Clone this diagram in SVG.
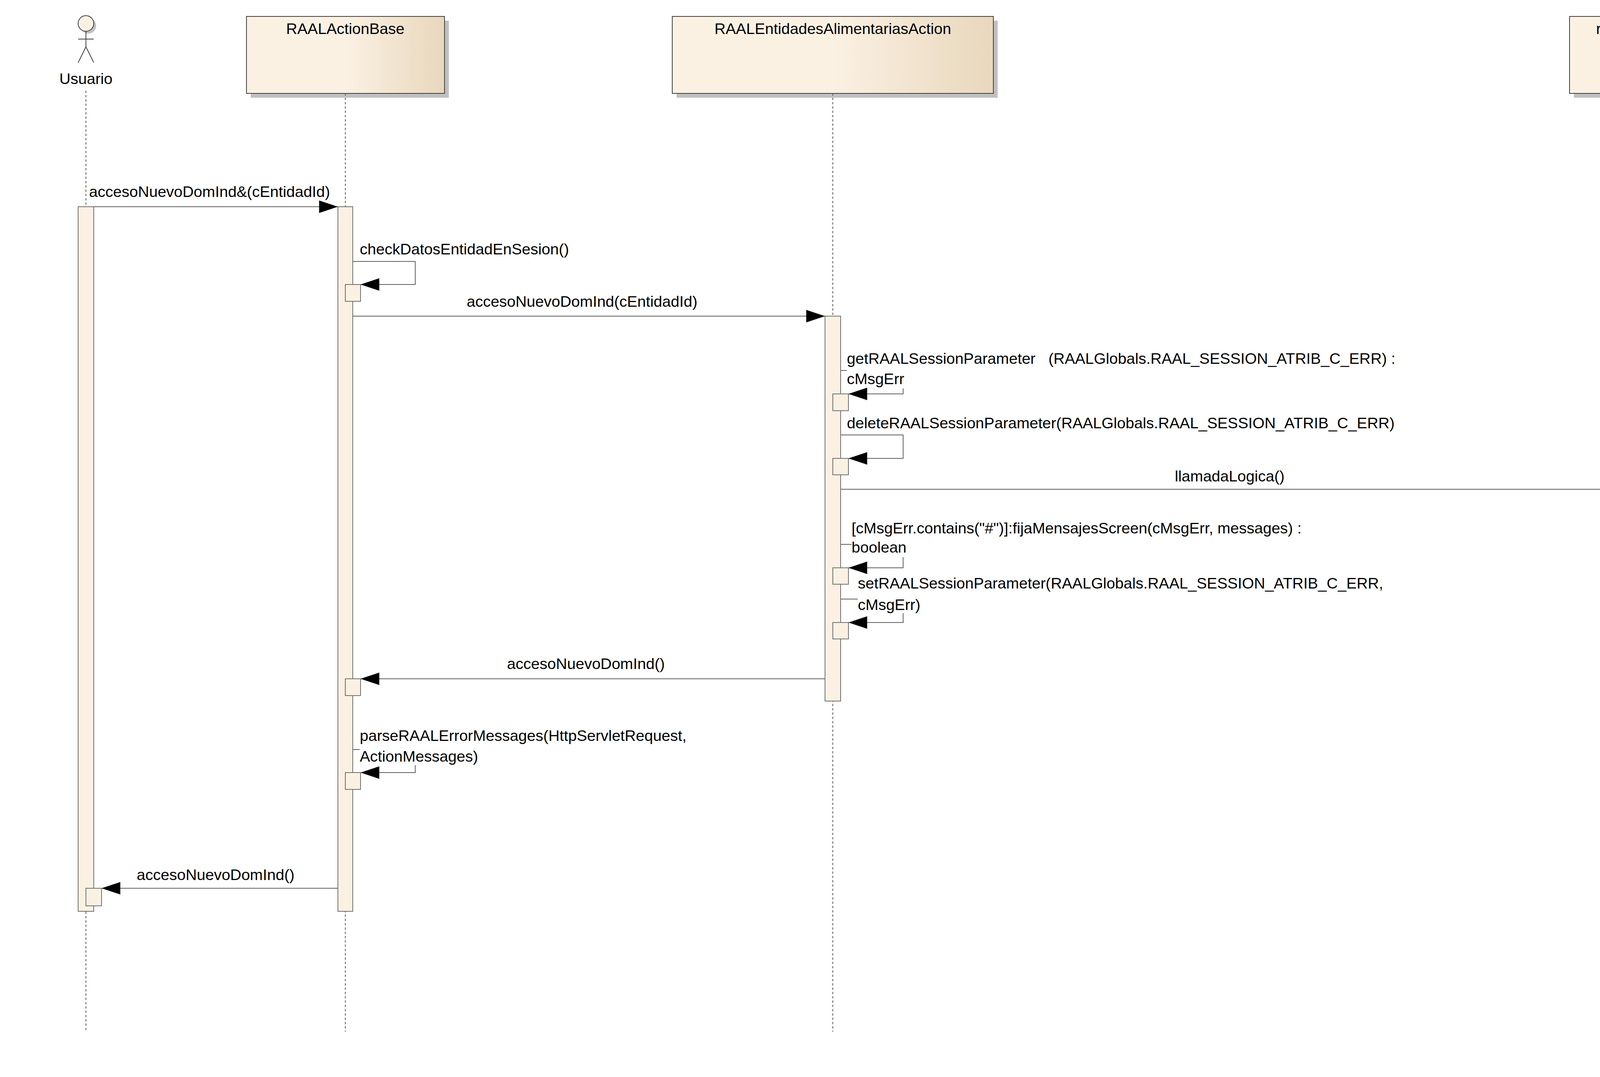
<svg xmlns="http://www.w3.org/2000/svg" width="4416" height="2756" viewBox="0 0 4416 2756">
<defs>
<linearGradient id="g" x1="0" x2="1" y1="0" y2="0"><stop offset="0.5" stop-color="#FBF1E3"/><stop offset="1" stop-color="#E8D7BC"/></linearGradient>
<marker id="ah" markerWidth="48" markerHeight="32" refX="48" refY="16" orient="auto" markerUnits="userSpaceOnUse"><path d="M0,0 L48,16 L0,32 Z" fill="#000"/></marker>
<style>
text{font-family:"Liberation Sans",Arial,sans-serif;font-size:39.5px;fill:#000}
.hd{fill:url(#g);stroke:#404040;stroke-width:2}
.sh{fill:#c0c0c0}
.ll{stroke:#606060;stroke-width:2;stroke-dasharray:6,5;fill:none}
.act{fill:#FBF1E3;stroke:#707070;stroke-width:2}
.m{stroke:#606060;stroke-width:2;fill:none}
.c{text-anchor:middle}
</style>
</defs>
<rect width="4416" height="2756" fill="#fff"/>
<g id="Usuario">
<circle cx="226" cy="66" r="20" class="sh"/>
<circle cx="220" cy="60" r="20" fill="#FBF1E3" stroke="#404040" stroke-width="2"/>
<path d="M220,80 V120 M200,100 H240 M220,120 L200,160 M220,120 L240,160" stroke="#404040" stroke-width="2" fill="none"/>
<text x="220" y="215" class="c">Usuario</text>
<line x1="220" y1="232" x2="220" y2="2640" class="ll"/>
<rect x="200" y="529" width="40" height="1803" class="act"/>
<rect x="220" y="2273" width="40" height="45" class="act"/>
</g>
<g id="RAALActionBase">
<rect x="642" y="53" width="507" height="197" class="sh"/>
<rect x="631" y="42" width="507" height="197" class="hd"/>
<text x="884" y="87" class="c">RAALActionBase</text>
<line x1="884" y1="239" x2="884" y2="2640" class="ll"/>
<rect x="865" y="529" width="38" height="1803" class="act"/>
<rect x="884" y="728" width="39" height="43" class="act"/>
<rect x="884" y="1737" width="39" height="43" class="act"/>
<rect x="884" y="1977" width="39" height="43" class="act"/>
</g>
<g id="RAALEntidadesAlimentariasAction">
<rect x="1732" y="53" width="822" height="197" class="sh"/>
<rect x="1721" y="42" width="822" height="197" class="hd"/>
<text x="2132" y="87" class="c">RAALEntidadesAlimentariasAction</text>
<line x1="2132" y1="239" x2="2132" y2="2640" class="ll"/>
<rect x="2112" y="809" width="40" height="985" class="act"/>
<rect x="2132" y="1008" width="40" height="43" class="act"/>
<rect x="2132" y="1173" width="40" height="42" class="act"/>
<rect x="2132" y="1453" width="40" height="42" class="act"/>
<rect x="2132" y="1593" width="40" height="42" class="act"/>
</g>
<g id="raaLogicaLN">
<rect x="4029" y="53" width="361" height="197" class="sh"/>
<rect x="4018" y="42" width="361" height="197" class="hd"/>
<text x="4198" y="87" class="c">raaLogicaLN</text>
<line x1="4196" y1="239" x2="4196" y2="2640" class="ll"/>
<rect x="4176" y="1253" width="40" height="37" class="act"/>
</g>
<g id="connectors">
<line x1="240" y1="529" x2="865" y2="529" class="m" marker-end="url(#ah)"/>
<text x="228" y="504">accesoNuevoDomInd&amp;(cEntidadId)</text>
<path d="M903,669 H1063 V728 H923" class="m" marker-end="url(#ah)"/>
<text x="921" y="651">checkDatosEntidadEnSesion()</text>
<line x1="903" y1="809" x2="2112" y2="809" class="m" marker-end="url(#ah)"/>
<text x="1490" y="785" class="c">accesoNuevoDomInd(cEntidadId)</text>
<path d="M2152,948 H2168 M2312,994 V1008 H2172" class="m" marker-end="url(#ah)"/>
<text x="2168" y="931" xml:space="preserve">getRAALSessionParameter   (RAALGlobals.RAAL_SESSION_ATRIB_C_ERR) :</text>
<text x="2168" y="983">cMsgErr</text>
<path d="M2152,1113 H2312 V1173 H2172" class="m" marker-end="url(#ah)"/>
<text x="2168" y="1096">deleteRAALSessionParameter(RAALGlobals.RAAL_SESSION_ATRIB_C_ERR)</text>
<line x1="2152" y1="1252" x2="4176" y2="1252" class="m" marker-end="url(#ah)"/>
<text x="3148" y="1232" class="c">llamadaLogica()</text>
<path d="M2152,1393 H2180 M2312,1426 V1453 H2172" class="m" marker-end="url(#ah)"/>
<text x="2180" y="1365">[cMsgErr.contains("#")]:fijaMensajesScreen(cMsgErr, messages) :</text>
<text x="2180" y="1414">boolean</text>
<path d="M2152,1533 H2196 M2312,1569 V1593 H2172" class="m" marker-end="url(#ah)"/>
<text x="2196" y="1506">setRAALSessionParameter(RAALGlobals.RAAL_SESSION_ATRIB_C_ERR,</text>
<text x="2196" y="1561">cMsgErr)</text>
<line x1="2112" y1="1737" x2="923" y2="1737" class="m" marker-end="url(#ah)"/>
<text x="1500" y="1712" class="c">accesoNuevoDomInd()</text>
<path d="M903,1918 H921 M1063,1958 V1977 H923" class="m" marker-end="url(#ah)"/>
<text x="921" y="1896">parseRAALErrorMessages(HttpServletRequest,</text>
<text x="921" y="1949">ActionMessages)</text>
<line x1="865" y1="2273" x2="260" y2="2273" class="m" marker-end="url(#ah)"/>
<text x="552" y="2252" class="c">accesoNuevoDomInd()</text>
</g>
</svg>
